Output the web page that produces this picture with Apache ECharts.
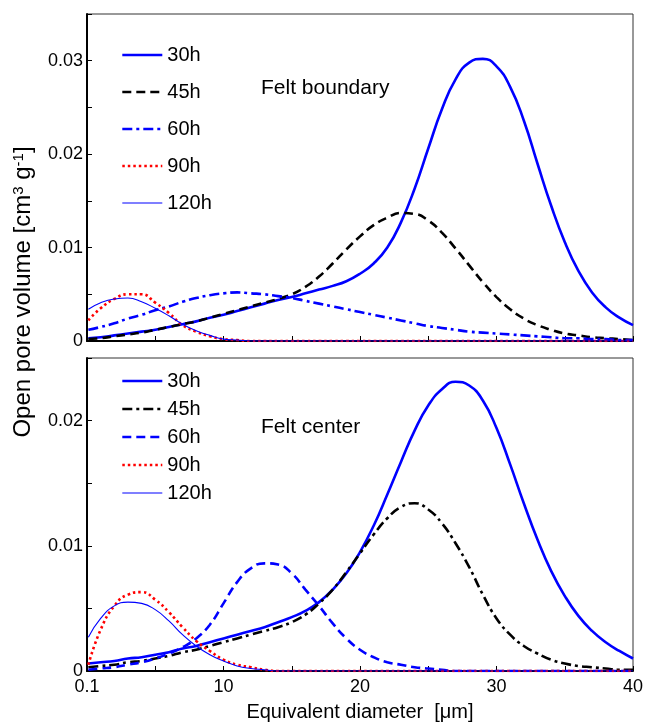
<!DOCTYPE html>
<html><head><meta charset="utf-8">
<script src="https://cdn.jsdelivr.net/npm/echarts@6/dist/echarts.min.js"></script>
<style>html,body{margin:0;padding:0;background:#fff}#c{width:651px;height:724px}</style>
</head><body><div id="c"></div>
<script>
// Equivalent diameter [µm]
const diameters = [0.1,1,2,3,4,5,6,7,8,9,10,11,12,13,14,15,16,17,18,19,20,21,22,23,24,25,26,27,28,29,30,31,32,33,34,35,36,37,38,39,40];

// Felt boundary (top panel)
const boundary30 = [0.0003,0.0004,0.0006,0.0008,0.0010,0.0012,0.0015,0.0018,0.0021,0.0025,0.0028,0.0032,0.0036,0.0040,0.0044,0.0047,0.0051,0.0055,0.0059,0.0064,0.0072,0.0083,0.0100,0.0127,0.0163,0.0206,0.0248,0.0280,0.0298,0.0302,0.0294,0.0272,0.0236,0.0190,0.0145,0.0106,0.0075,0.0052,0.0036,0.0025,0.0017];
const boundary45 = [0.0002,0.0003,0.0005,0.0007,0.0009,0.0012,0.0015,0.0018,0.0021,0.0025,0.0029,0.0033,0.0037,0.0041,0.0045,0.0050,0.0058,0.0069,0.0083,0.0098,0.0112,0.0124,0.0132,0.0137,0.0136,0.0129,0.0116,0.0099,0.0081,0.0063,0.0047,0.0034,0.0024,0.0017,0.0012,0.0008,0.0006,0.0004,0.0003,0.0002,0.0001];
const boundary60 = [0.0012,0.0015,0.0019,0.0024,0.0028,0.0033,0.0037,0.0042,0.0046,0.0049,0.0051,0.0052,0.0051,0.0050,0.0048,0.0046,0.0043,0.0040,0.0037,0.0034,0.0031,0.0028,0.0025,0.0022,0.0019,0.0016,0.0014,0.0012,0.0010,0.0009,0.0008,0.0007,0.0006,0.0005,0.0004,0.0003,0.0003,0.0002,0.0002,0.0001,0.0001];
const boundary90 = [0.0022,0.0035,0.0045,0.0050,0.0050,0.0041,0.0030,0.0017,0.0010,0.0005,0.0002,0.0001,0,0,0,0,0,0,0,0,0,0,0,0,0,0,0,0,0,0,0,0,0,0,0,0,0,0,0,0,0];
const boundary120 = [0.0034,0.0041,0.0045,0.0046,0.0042,0.0035,0.0027,0.0018,0.0011,0.0006,0.0002,0.0001,0,0,0,0,0,0,0,0,0,0,0,0,0,0,0,0,0,0,0,0,0,0,0,0,0,0,0,0,0];

// Felt center (bottom panel)
const center30 = [0.0006,0.0007,0.0008,0.0010,0.0011,0.0013,0.0015,0.0018,0.0020,0.0023,0.0026,0.0029,0.0032,0.0035,0.0039,0.0043,0.0048,0.0055,0.0065,0.0078,0.0095,0.0116,0.0141,0.0167,0.0192,0.0212,0.0225,0.0231,0.0228,0.0216,0.0194,0.0165,0.0134,0.0105,0.0080,0.0060,0.0044,0.0032,0.0023,0.0016,0.0010];
const center45 = [0.0003,0.0004,0.0005,0.0007,0.0008,0.0010,0.0012,0.0015,0.0017,0.0020,0.0023,0.0026,0.0029,0.0032,0.0035,0.0039,0.0045,0.0054,0.0065,0.0079,0.0094,0.0109,0.0122,0.0131,0.0134,0.0129,0.0118,0.0102,0.0083,0.0061,0.0042,0.0029,0.0020,0.0014,0.0009,0.0006,0.0004,0.0003,0.0002,0.0001,0.0001];
const center60 = [0.0001,0.0002,0.0003,0.0005,0.0007,0.0010,0.0014,0.0019,0.0026,0.0037,0.0054,0.0071,0.0082,0.0086,0.0085,0.0078,0.0065,0.0052,0.0038,0.0026,0.0017,0.0011,0.0007,0.0005,0.0003,0.0002,0.0001,0,0,0,0,0,0,0,0,0,0,0,0,0,0];
const center90 = [0.0005,0.0033,0.0052,0.0061,0.0063,0.0057,0.0047,0.0035,0.0024,0.0016,0.0009,0.0005,0.0003,0.0001,0,0,0,0,0,0,0,0,0,0,0,0,0,0,0,0,0,0,0,0,0,0,0,0,0,0,0];
const center120 = [0.0027,0.0042,0.0052,0.0055,0.0054,0.0049,0.0040,0.0029,0.0020,0.0013,0.0008,0.0004,0.0002,0.0001,0,0,0,0,0,0,0,0,0,0,0,0,0,0,0,0,0,0,0,0,0,0,0,0,0,0,0];

const seriesNames = ['30h','45h','60h','90h','120h'];
const panelTexts = ['Felt boundary','Felt center'];
const xTitle = 'Equivalent diameter  [\u03bcm]';

const FONT = '"Liberation Sans", Arial, Helvetica, sans-serif';
const BLUE = '#0000ff';
const DASH = [9, 5], DASHDOT = [10, 4, 3, 4], DOT = [2.5, 3];
const THICK = 2.6, THIN = 1.1;
const legendWidths = [THICK, THICK, THICK, THICK, THIN];

function pairs(ys) { return diameters.map((x, i) => [x, ys[i]]); }
function mk(name, panel, ys, color, width, type) {
  return {
    name: name + '|' + panel, type: 'line', xAxisIndex: panel, yAxisIndex: panel,
    data: pairs(ys), symbol: 'none', showSymbol: false, smooth: 0.5,
    lineStyle: { color: color, width: width, type: type, cap: 'butt' },
    itemStyle: { color: color }, emphasis: { disabled: true }, animation: false
  };
}
const series = [
  mk('30h', 0, boundary30, BLUE, THICK, 'solid'),
  mk('45h', 0, boundary45, '#000', THICK, DASH),
  mk('60h', 0, boundary60, BLUE, THICK, DASHDOT),
  mk('90h', 0, boundary90, '#ff0000', THICK, DOT),
  mk('120h', 0, boundary120, BLUE, THIN, 'solid'),
  mk('30h', 1, center30, BLUE, THICK, 'solid'),
  mk('45h', 1, center45, '#000', THICK, DASHDOT),
  mk('60h', 1, center60, BLUE, THICK, DASH),
  mk('90h', 1, center90, '#ff0000', THICK, DOT),
  mk('120h', 1, center120, BLUE, THIN, 'solid')
];

function xAxis(gi, labels) {
  return {
    type: 'value', gridIndex: gi, min: 0, max: 40, interval: 5,
    axisLine: { show: true, onZero: false, lineStyle: { color: '#000', width: 2 } },
    axisTick: { show: true, inside: true, length: 5, lineStyle: { color: '#000', width: 1 } },
    axisLabel: { show: labels, color: '#000', fontSize: 18, fontFamily: FONT, margin: 7,
      formatter: v => v === 0 ? '0.1' : (v % 10 === 0 ? String(v) : '') },
    splitLine: { show: false },
    name: labels ? xTitle : '', nameLocation: 'middle', nameGap: 31,
    nameTextStyle: { color: '#000', fontSize: 20, fontFamily: FONT }
  };
}
function yAxis(gi, max) {
  return {
    type: 'value', gridIndex: gi, min: 0, max: max, interval: 0.005,
    axisLine: { show: true, onZero: false, lineStyle: { color: '#000', width: 2 } },
    axisTick: { show: true, inside: true, length: 5, lineStyle: { color: '#000', width: 1 } },
    axisLabel: { color: '#000', fontSize: 18, fontFamily: FONT, margin: 4,
      formatter: v => { const k = Math.round(v * 1000); if (k % 10 !== 0) return ''; return k === 0 ? '0' : (k / 1000).toFixed(2); } },
    splitLine: { show: false }
  };
}
function legend(panel, top, gap) {
  return {
    data: seriesNames.map((n, i) => ({ name: n + '|' + panel, lineStyle: { width: legendWidths[i] } })),
    orient: 'vertical', left: 116, top: top,
    itemWidth: 40, itemHeight: 10, itemGap: gap, selectedMode: false,
    itemStyle: { opacity: 0, borderWidth: 0 },
    formatter: n => n.split('|')[0],
    textStyle: { color: '#000', fontSize: 20, fontFamily: FONT, lineHeight: 20 }
  };
}

const chart = echarts.init(document.getElementById('c'), null, { renderer: 'canvas' });
chart.setOption({
  animation: false,
  backgroundColor: '#fff',
  grid: [
    { left: 87, right: 18, top: 14, height: 327, show: true, borderColor: '#333', borderWidth: 1, backgroundColor: 'transparent' },
    { left: 87, right: 18, top: 358, height: 313, show: true, borderColor: '#333', borderWidth: 1, backgroundColor: 'transparent' }
  ],
  xAxis: [xAxis(0, false), xAxis(1, true)],
  yAxis: [yAxis(0, 0.035), yAxis(1, 0.025)],
  legend: [legend(0, 40, 17), legend(1, 366, 8)],
  series: series,
  graphic: [
    { type: 'text', left: 261, top: 78, style: { text: panelTexts[0], fontSize: 21, fontFamily: FONT, fill: '#000' } },
    { type: 'text', left: 261, top: 417, style: { text: panelTexts[1], fontSize: 21, fontFamily: FONT, fill: '#000' } },
    { type: 'text', x: 23, y: 292, rotation: Math.PI / 2,
      style: { text: 'Open pore volume [cm{sup|3} g{sup|-1}]', fontSize: 24, fontFamily: FONT, fill: '#000',
        align: 'center', verticalAlign: 'middle', textAlign: 'center', textVerticalAlign: 'middle',
        rich: { sup: { fontSize: 15, fontFamily: FONT, fill: '#000', verticalAlign: 'top' } } } }
  ]
});
</script>
</body></html>
